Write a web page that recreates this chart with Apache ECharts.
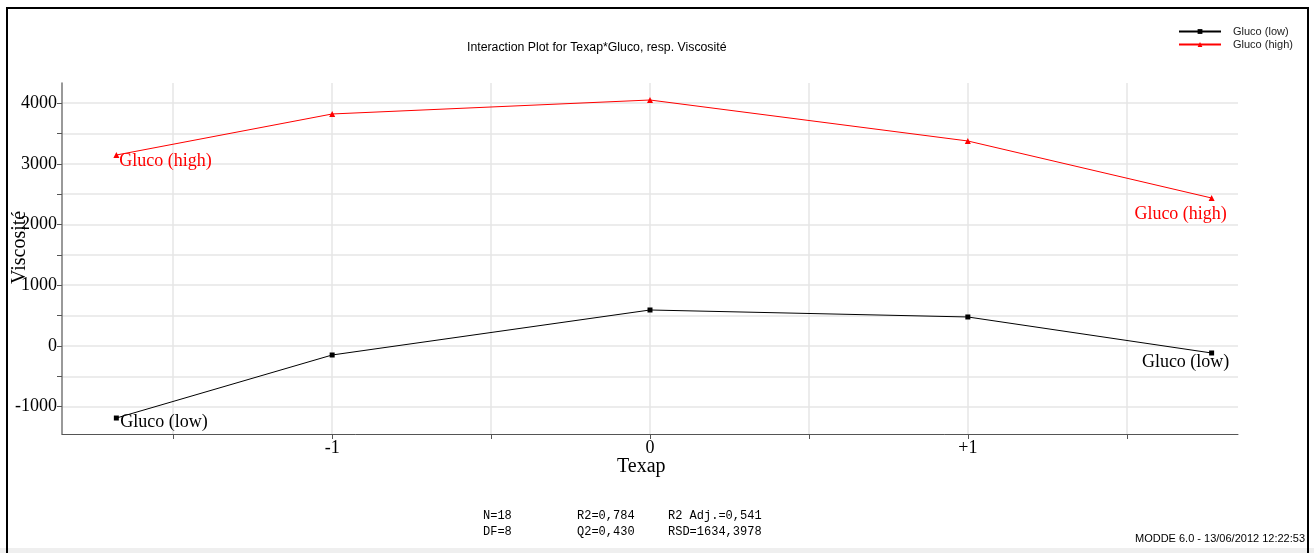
<!DOCTYPE html>
<html>
<head>
<meta charset="utf-8">
<script src="https://cdn.jsdelivr.net/npm/echarts@6/dist/echarts.min.js"></script>
<style>
html,body{margin:0;padding:0;background:#fff;}
#chart{width:1314px;height:553px;}
</style>
</head>
<body>
<div id="chart"></div>
<script>
// ---- data ----
const seriesNames = ['Gluco (low)', 'Gluco (high)'];
const texapLow = [-1.679, -1, 0, 1, 1.767];
const viscLow = [-1187, -149, 592, 477, -116];
const texapHigh = [-1.679, -1, 0, 1, 1.767];
const viscHigh = [3144, 3820, 4050, 3375, 2436];
const xTickValues = [-1.5, -1, -0.5, 0, 0.5, 1, 1.5];
const xLabelValues = [-1, 0, 1];
const xLabelTexts = ['-1', '0', '+1'];
const yTickValues = [-1000, -500, 0, 500, 1000, 1500, 2000, 2500, 3000, 3500, 4000];
const yLabelValues = [-1000, 0, 1000, 2000, 3000, 4000];
const statsRow1 = ['N=18', 'R2=0,784', 'R2 Adj.=0,541'];
const statsRow2 = ['DF=8', 'Q2=0,430', 'RSD=1634,3978'];
const titleText = 'Interaction Plot for Texap*Gluco, resp. Viscosité';
const footerText = 'MODDE 6.0 - 13/06/2012 12:22:53';

const serif = '"Liberation Serif", "DejaVu Serif", serif';
const sans = '"Liberation Sans", Arial, sans-serif';
const mono = '"Liberation Mono", "DejaVu Sans Mono", monospace';

function buildData(xs, ys, color, firstOffset, lastOffset) {
  return xs.map((x, i) => {
    const item = { value: [x, ys[i]] };
    if (i === 0 || i === xs.length - 1) {
      item.label = {
        show: true,
        position: 'inside',
        align: i === 0 ? 'left' : 'center',
        verticalAlign: 'middle',
        offset: i === 0 ? firstOffset : lastOffset,
        formatter: '{a}',
        color: color,
        fontFamily: serif,
        fontSize: 18
      };
    }
    return item;
  });
}

const chart = echarts.init(document.getElementById('chart'), null, { renderer: 'canvas' });
const option = {
  animation: false,
  backgroundColor: '#fff',
  title: {
    text: titleText,
    left: 467, top: 42, padding: 0,
    textStyle: { fontFamily: sans, fontSize: 12.3, fontWeight: 'normal', color: '#000' }
  },
  legend: {
    orient: 'vertical',
    left: 1178, top: 26, padding: 0,
    itemWidth: 42, itemHeight: 6, itemGap: 2,
    data: seriesNames,
    textStyle: { fontFamily: sans, fontSize: 11, color: '#222', padding: [0, 0, 0, 7] }
  },
  grid: { left: 62, right: 76, top: 83, bottom: 119, containLabel: false },
  xAxis: {
    type: 'value',
    min: -1.85, max: 1.85,
    axisLine: { show: true, onZero: false, lineStyle: { color: '#555', width: 1 } },
    axisTick: { show: true, customValues: xTickValues, length: 5, lineStyle: { color: '#555' } },
    axisLabel: {
      customValues: xLabelValues,
      formatter: v => xLabelTexts[xLabelValues.indexOf(Math.round(v))] ?? '',
      fontFamily: serif, fontSize: 18, color: '#000', margin: 5
    },
    splitLine: { show: true, lineStyle: { color: '#e6e6e6', width: 1.5 } }
  },
  yAxis: {
    type: 'value',
    min: -1450, max: 4330,
    axisLine: { show: true, onZero: false, lineStyle: { color: '#777', width: 1.5 } },
    axisTick: { show: true, customValues: yTickValues, length: 5, lineStyle: { color: '#555' } },
    axisLabel: {
      customValues: yLabelValues,
      formatter: v => String(v),
      fontFamily: serif, fontSize: 18, color: '#000', margin: 5
    },
    splitLine: { show: true, lineStyle: { color: '#e6e6e6', width: 1.5 } }
  },
  series: [
    {
      name: seriesNames[0], type: 'line',
      data: buildData(texapLow, viscLow, '#000', [4, 4], [-26, 9]),
      symbol: 'rect', symbolSize: 5, showAllSymbol: true,
      itemStyle: { color: '#000' },
      lineStyle: { color: '#000', width: 1 },
      label: { show: false }
    },
    {
      name: seriesNames[1], type: 'line',
      data: buildData(texapHigh, viscHigh, '#ff0000', [3, 6], [-31, 16]),
      symbol: 'triangle', symbolSize: 6, showAllSymbol: true,
      itemStyle: { color: '#ff0000' },
      lineStyle: { color: '#ff0000', width: 1 },
      label: { show: false }
    }
  ],
  graphic: [
    { type: 'rect', shape: { x: 0, y: 548, width: 1314, height: 5 }, style: { fill: '#efefef' }, z: 0 },
    { type: 'rect', shape: { x: 7, y: 8, width: 1301, height: 560 }, style: { fill: 'none', stroke: '#000', lineWidth: 2 }, z: 100 },
    { type: 'text', left: 617, top: 457, style: { text: 'Texap', font: '20px ' + serif, fill: '#000' } },
    { type: 'text', x: 10, y: 284, rotation: Math.PI / 2, style: { text: 'Viscosité', font: '20px ' + serif, fill: '#000' } },
    { type: 'text', x: 483, y: 510, style: { text: statsRow1[0], font: '12px ' + mono, fill: '#000' } },
    { type: 'text', x: 577, y: 510, style: { text: statsRow1[1], font: '12px ' + mono, fill: '#000' } },
    { type: 'text', x: 668, y: 510, style: { text: statsRow1[2], font: '12px ' + mono, fill: '#000' } },
    { type: 'text', x: 483, y: 526, style: { text: statsRow2[0], font: '12px ' + mono, fill: '#000' } },
    { type: 'text', x: 577, y: 526, style: { text: statsRow2[1], font: '12px ' + mono, fill: '#000' } },
    { type: 'text', x: 668, y: 526, style: { text: statsRow2[2], font: '12px ' + mono, fill: '#000' } },
    { type: 'text', x: 1305, y: 533, style: { text: footerText, font: '11px ' + sans, fill: '#000', align: 'right' } }
  ]
};
chart.setOption(option);
</script>
</body>
</html>
